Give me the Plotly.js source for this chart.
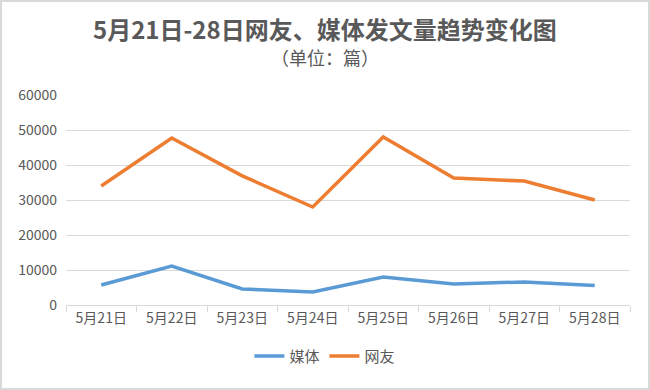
<!DOCTYPE html>
<html>
<head>
<meta charset="utf-8">
<script src="https://cdn.plot.ly/plotly-3.0.1.min.js"></script>
<style>
html,body{margin:0;padding:0;background:#fff;}
#wrap{position:absolute;left:0;top:0;width:646px;height:386px;border:2px solid #d9d9d9;}
#chart{width:646px;height:386px;}
</style>
</head>
<body>
<div id="wrap"><div id="chart"></div></div>
<script>
const dates = ["5月21日","5月22日","5月23日","5月24日","5月25日","5月26日","5月27日","5月28日"];
const media = [5700, 11100, 4600, 3700, 8000, 6000, 6600, 5600];
const netizens = [34000, 47700, 36900, 28000, 48000, 36300, 35400, 30000];
const yTicks = [0, 10000, 20000, 30000, 40000, 50000, 60000];

const font = "'Noto Sans CJK SC', 'Noto Sans', sans-serif";
const traces = [
  {x: dates, y: media, name: "媒体", type: "scatter", mode: "lines",
   line: {color: "#5b9bd5", width: 3.5}},
  {x: dates, y: netizens, name: "网友", type: "scatter", mode: "lines",
   line: {color: "#ed7d31", width: 3.5}}
];
const layout = {
  width: 646, height: 386,
  margin: {l: 64, r: 18, t: 93, b: 83},
  paper_bgcolor: "#fff", plot_bgcolor: "#fff",
  font: {family: font, color: "#595959", size: 14},
  showlegend: true,
  legend: {orientation: "h", x: 0.459, xanchor: "center", y: -0.165, yanchor: "top",
           font: {size: 15, color: "#595959"}, itemwidth: 30, tracegroupgap: 0},
  xaxis: {type: "category", range: [-0.5, 7.5], showgrid: false,
          showline: true, linecolor: "#d9d9d9", linewidth: 1,
          ticks: "outside", tickson: "boundaries", ticklen: 6, tickcolor: "#d9d9d9",
          tickfont: {size: 14, color: "#595959"}, fixedrange: true},
  yaxis: {range: [0, 60000], tickvals: yTicks, ticktext: yTicks.map(String),
          showgrid: true, gridcolor: "#d9d9d9", gridwidth: 1, zeroline: false,
          showline: false, ticks: "", ticklabelstandoff: 8,
          tickfont: {size: 14, color: "#595959"}, fixedrange: true},
  annotations: [
    {text: "<b>5月21日-28日网友、媒体发文量趋势变化图</b>", xref: "paper", yref: "paper",
     x: 0.459, y: 1, yanchor: "bottom", yshift: 47, showarrow: false,
     font: {size: 24, color: "#595959", family: font}},
    {text: "（单位：篇）", xref: "paper", yref: "paper",
     x: 0.459, y: 1, yanchor: "bottom", yshift: 23, showarrow: false,
     font: {size: 18, color: "#595959", family: font}}
  ]
};
Plotly.newPlot("chart", traces, layout, {displayModeBar: false, staticPlot: true});
</script>
</body>
</html>
